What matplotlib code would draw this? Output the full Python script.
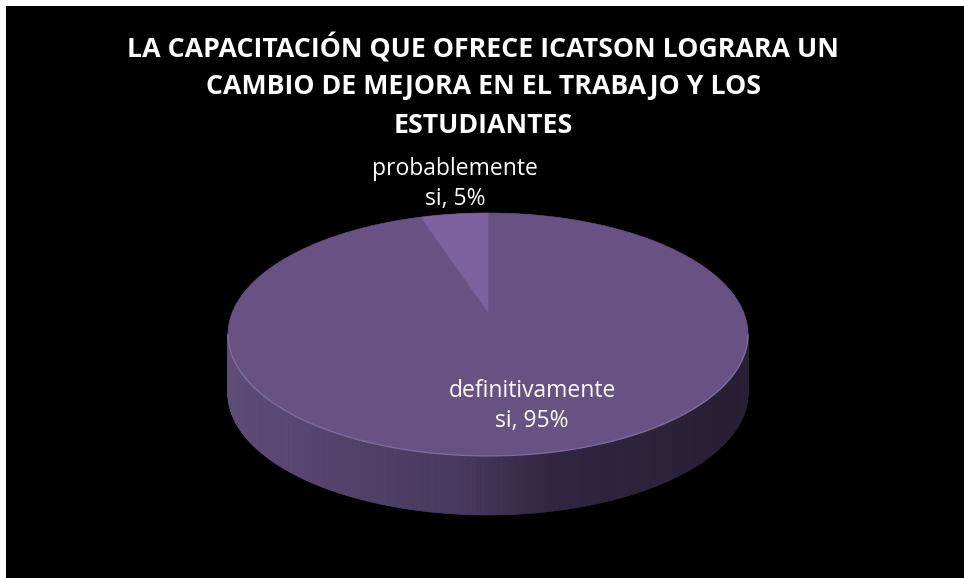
import numpy as np
import matplotlib
matplotlib.use('Agg')
import matplotlib.pyplot as plt
from matplotlib.patches import Polygon, Rectangle

# data
title_lines = ['LA CAPACITACIÓN QUE OFRECE ICATSON LOGRARA UN',
               'CAMBIO DE MEJORA EN EL TRABAJO Y LOS',
               'ESTUDIANTES']
categories = ['definitivamente si', 'probablemente si']
values = [95, 5]
top_colors = ['#685284', '#7E62A0']

# pie geometry (pixels), slight perspective like the excel 3d pie
cx, cy = 488, 312
rx, ry = 255.5, 117.3
persp = 0.185
depth = 59


def proj(theta):
    # theta clockwise from 12 o'clock
    u = np.sin(theta)
    v = np.cos(theta)
    w = 1 + persp * v
    return cx + rx * u / w, cy - ry * v / w


fig = plt.figure(figsize=(9.64, 5.78), dpi=100, facecolor='white')
ax = fig.add_axes([0, 0, 1, 1])
ax.set_xlim(0, 964)
ax.set_ylim(578, 0)
ax.axis('off')
ax.add_patch(Rectangle((6, 6), 958, 572, facecolor='black', edgecolor='none'))

# side of the pie (front half), shaded left to right
t_r = np.arccos(-persp)
t_l = 2 * np.pi - t_r
ts = np.linspace(t_r, t_l, 241)
xs, ys = proj(ts)
stops_x = [0.0, 0.45, 0.62, 1.0]
stops_c = np.array([[94, 77, 121], [72, 57, 94], [50, 38, 66], [40, 31, 52]]) / 255.0
xmin, xmax = xs.min(), xs.max()
for i in range(len(ts) - 1):
    f = ((xs[i] + xs[i + 1]) / 2 - xmin) / (xmax - xmin)
    col = [np.interp(f, stops_x, stops_c[:, k]) for k in range(3)]
    quad = [(xs[i], ys[i]), (xs[i + 1], ys[i + 1]),
            (xs[i + 1], ys[i + 1] + depth), (xs[i], ys[i] + depth)]
    ax.add_patch(Polygon(quad, closed=True, facecolor=col, edgecolor=col, lw=0.6))

# top face slices
total = sum(values)
start = 0.0
for val, col in zip(values, top_colors):
    ang = 2 * np.pi * val / total
    th = np.linspace(start, start + ang, max(int(val * 4), 8))
    px, py = proj(th)
    pts = [(cx, cy)] + list(zip(px, py))
    ax.add_patch(Polygon(pts, closed=True, facecolor=col, edgecolor=col, lw=0.5))
    start += ang

# soft highlight along the front rim
ax.plot(xs, ys, color='#8C77AA', lw=1.0, alpha=0.7)

# title
title_y = [48, 87, 126]
for line, y in zip(title_lines, title_y):
    ax.text(483, y, line, ha='center', va='center', color='white',
            fontsize=19.3, fontweight='bold', family='Open Sans')

# data labels
label_pos = [(532, 406), (455, 184)]
for cat, val, (lx, ly) in zip(categories, values, label_pos):
    txt = cat.replace(' ', '\n') + ', %d%%' % val
    ax.text(lx, ly, txt, ha='center', va='center', color='white',
            fontsize=16.5, family='Open Sans', linespacing=1.3)

fig.savefig('out.png', dpi=100, facecolor=fig.get_facecolor())
